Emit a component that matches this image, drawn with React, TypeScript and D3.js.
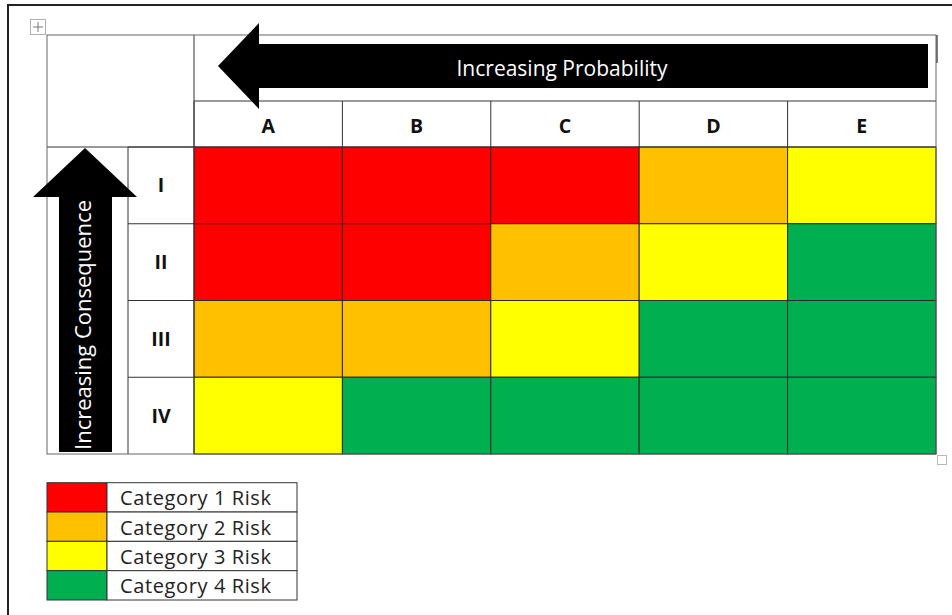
import React from "react";
import * as d3 from "d3";

const probabilities = ["A", "B", "C", "D", "E"];
const consequences = ["I", "II", "III", "IV"];
// risk category per consequence row, per probability column
const riskRowI = [1, 1, 1, 2, 3];
const riskRowII = [1, 1, 2, 3, 4];
const riskRowIII = [2, 2, 3, 4, 4];
const riskRowIV = [3, 4, 4, 4, 4];
const riskRows = [riskRowI, riskRowII, riskRowIII, riskRowIV];
const categories = [1, 2, 3, 4];
const categoryLabels = ["Category 1 Risk", "Category 2 Risk", "Category 3 Risk", "Category 4 Risk"];
const categoryColors = ["#FF0000", "#FFC000", "#FFFF00", "#00B050"];

const W = 952;
const H = 615;
const FONT = "'Open Sans', Lato, sans-serif";

export default function App() {
  const x = d3.scaleBand<string>().domain(probabilities).range([194, 936]).padding(0);
  const y = d3.scaleBand<string>().domain(consequences).range([147, 454]).padding(0);
  const color = d3.scaleOrdinal<number, string>().domain(categories).range(categoryColors);
  const ly = d3.scaleBand<number>().domain(categories).range([482.7, 600]).padding(0);

  const tableLeft = 47, tableTop = 35, tableRight = 936, tableBottom = 454;
  const arrowColRight = 128, cornerRight = 194, hdr1Bottom = 101, hdr2Bottom = 147;

  const cells: { r: string; c: string; v: number }[] = [];
  riskRows.forEach((row, i) => row.forEach((v, j) => cells.push({ r: consequences[i], c: probabilities[j], v })));

  const line = d3.line();
  const hArrow = line([
    [218, 66], [259, 23], [259, 44], [928, 44], [928, 88], [259, 88], [259, 109], [218, 66],
  ]) + "Z";
  const vArrow = line([
    [85, 148], [137, 197], [112, 197], [112, 452], [59, 452], [59, 197], [33, 197], [85, 148],
  ]) + "Z";

  return (
    <svg width={W} height={H} style={{ position: "absolute", left: 0, top: 0, display: "block", background: "#fff" }}>
      {/* page frame */}
      <line x1={8} y1={5} x2={W} y2={5} stroke="#222" strokeWidth={2} />
      <line x1={8} y1={4} x2={8} y2={H} stroke="#222" strokeWidth={2} />

      {/* move handle */}
      <rect x={30.5} y={19.5} width={15} height={15} fill="#fff" stroke="#b0b0b0" />
      <g stroke="#777" strokeWidth={1}>
        <line x1={33} y1={27} x2={43} y2={27} />
        <line x1={38} y1={22} x2={38} y2={32} />
      </g>

      {/* header white cells */}
      <rect x={tableLeft} y={tableTop} width={tableRight - tableLeft} height={hdr2Bottom - tableTop} fill="#fff" />

      {/* risk cells */}
      {cells.map((d, i) => (
        <rect key={i} x={x(d.c)} y={y(d.r)} width={x.bandwidth()} height={y.bandwidth()} fill={color(d.v)} stroke="#2a2a2a" strokeWidth={1} />
      ))}

      {/* grid lines for header / left columns */}
      <g stroke="#333" strokeWidth={1} fill="none">
        <line x1={cornerRight} y1={hdr1Bottom} x2={tableRight} y2={hdr1Bottom} />
        <line x1={tableLeft} y1={hdr2Bottom} x2={tableRight} y2={hdr2Bottom} />
        {probabilities.map((p) => (
          <line key={p} x1={x(p)} y1={hdr1Bottom} x2={x(p)} y2={hdr2Bottom} />
        ))}
        <line x1={cornerRight} y1={tableTop} x2={cornerRight} y2={tableBottom} />
        <line x1={arrowColRight} y1={hdr2Bottom} x2={arrowColRight} y2={tableBottom} />
        {consequences.map((c) => (
          <line key={c} x1={arrowColRight} y1={y(c)} x2={cornerRight} y2={y(c)} />
        ))}
      </g>
      <rect x={tableLeft} y={tableTop} width={tableRight - tableLeft} height={tableBottom - tableTop} fill="none" stroke="#666" strokeWidth={1} />
      <line x1={937} y1={35} x2={937} y2={63} stroke="#555" strokeWidth={1.5} />

      {/* arrows */}
      <path d={hArrow} fill="#000" />
      <text x={562} y={76} fill="#fff" fontFamily={FONT} fontSize={21} textAnchor="middle" textLength={211} lengthAdjust="spacing">Increasing Probability</text>
      <path d={vArrow} fill="#000" />
      <text transform="translate(91,325) rotate(-90)" fill="#fff" fontFamily={FONT} fontSize={22} textAnchor="middle" textLength={250} lengthAdjust="spacing">Increasing Consequence</text>

      {/* column labels */}
      {probabilities.map((p) => (
        <text key={p} x={(x(p) as number) + x.bandwidth() / 2} y={133} fontFamily={FONT} fontWeight={700} fontSize={19.5} textAnchor="middle" fill="#111">{p}</text>
      ))}
      {/* row labels */}
      {consequences.map((c) => (
        <text key={c} x={161} y={(y(c) as number) + y.bandwidth() / 2 + 7} fontFamily={FONT} fontWeight={700} fontSize={19.5} textAnchor="middle" fill="#111">{c}</text>
      ))}

      {/* resize handle */}
      <rect x={937.5} y={455.5} width={9} height={9} fill="#fff" stroke="#b8b8b8" />

      {/* legend */}
      {categories.map((k, i) => (
        <g key={k}>
          <rect x={47} y={ly(k)} width={60} height={ly.bandwidth()} fill={color(k)} stroke="#333" strokeWidth={1} />
          <rect x={107} y={ly(k)} width={190} height={ly.bandwidth()} fill="#fff" stroke="#333" strokeWidth={1} />
          <text x={120} y={(ly(k) as number) + ly.bandwidth() / 2 + 8} fontFamily={FONT} fontSize={20} fill="#222" textLength={151} lengthAdjust="spacing">{categoryLabels[i]}</text>
        </g>
      ))}
    </svg>
  );
}
